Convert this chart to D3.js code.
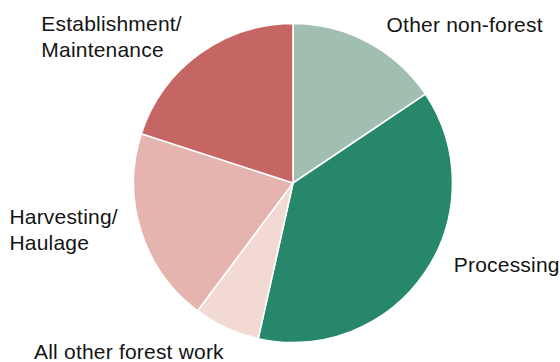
<!DOCTYPE html>
<html>
<head>
<meta charset="utf-8">
<script src="https://cdn.jsdelivr.net/npm/d3@7"></script>
<style>
  html, body { margin: 0; padding: 0; background: #fff; }
  svg { display: block; }
  text { font-family: "Liberation Sans", Arial, Helvetica, sans-serif; fill: #141414; }
</style>
</head>
<body>
<svg id="chart" width="560" height="362"></svg>
<script>
// Employment share by activity (%), clockwise from 12 o'clock
const categories = ["Other non-forest", "Processing", "All other forest work", "Harvesting/Haulage", "Establishment/Maintenance"];
const shares = [15.6, 37.9, 6.7, 19.8, 20.0];
const labelLines = [["Other non-forest"], ["Processing"], ["All other forest work"], ["Harvesting/", "Haulage"], ["Establishment/", "Maintenance"]];
const colours = ["#a0bfb0", "#27876b", "#f2d9d4", "#e5b4af", "#c56664"];

const width = 560, height = 362;
const cx = 293, cy = 183, radius = 159.5;
const fontSize = 21, lineHeight = 25.5;

const svg = d3.select("#chart");
const g = svg.append("g").attr("transform", `translate(${cx},${cy})`);

const pie = d3.pie().sort(null).value(d => d).startAngle(0).endAngle(2 * Math.PI);
const arcs = pie(shares);
const arc = d3.arc().innerRadius(0).outerRadius(radius);

g.selectAll("path.slice")
  .data(arcs)
  .join("path")
  .attr("class", "slice")
  .attr("d", arc)
  .attr("fill", (d, i) => colours[i])
  .attr("stroke", "#fff")
  .attr("stroke-width", 1.6)
  .attr("stroke-linejoin", "round");

// Labels sit just outside the rim at each slice's mid-angle; left-side
// labels are right-justified as a block against that point.
const labelRadius = radius * 1.1;
const nudge = [
  { dx: 11, dy: 4 },
  { dx: 16, dy: -10 },
  { dx: 4, dy: 17 },
  { dx: -8, dy: -12 },
  { dx: -8, dy: -10 }
];

arcs.forEach((d, i) => {
  const mid = (d.startAngle + d.endAngle) / 2;
  const ax = Math.sin(mid) * labelRadius + nudge[i].dx;
  const ay = -Math.cos(mid) * labelRadius + nudge[i].dy;
  const t = g.append("text")
    .attr("font-size", fontSize)
    .attr("letter-spacing", 0.2)
    .attr("aria-label", categories[i]);
  labelLines[i].forEach((line, k) => {
    t.append("tspan").attr("y", ay + k * lineHeight).text(line);
  });
  const spans = t.selectAll("tspan").nodes();
  const blockW = d3.max(spans, s => s.getComputedTextLength());
  const left = Math.sin(mid) < 0 ? ax - blockW : ax;
  t.selectAll("tspan").attr("x", left);
});
</script>
</body>
</html>
